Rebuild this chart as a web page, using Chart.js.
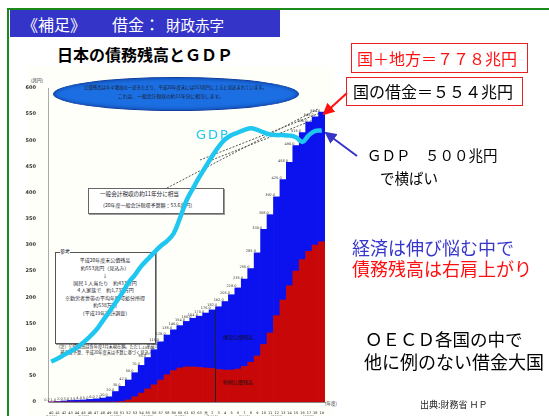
<!DOCTYPE html>
<html lang="ja">
<head>
<meta charset="utf-8">
<script src="https://cdn.jsdelivr.net/npm/chart.js@4.4.0/dist/chart.umd.min.js"></script>
<style>
  body { margin:0; width:549px; height:416px; overflow:hidden; background:#fff;
         font-family:"Noto Sans CJK JP", sans-serif; position:relative; }
  .abs { position:absolute; white-space:nowrap; }
  .tiny { color:#1a1a2a; line-height:1; }
</style>
</head>
<body>

<!-- slide frame + title -->
<div class="abs" style="left:7px;top:8px;width:600px;height:500px;border-left:2px solid #1a8a1a;border-top:2px solid #1a8a1a;"></div>
<div class="abs" style="left:10px;top:10px;width:270px;height:27px;background:#3434c8;color:#fff;">
  <span class="abs" style="left:12px;top:2px;font-size:16px;">《補足》</span>
  <span class="abs" style="left:102px;top:2px;font-size:16px;">借金：</span>
  <span class="abs" style="left:156px;top:4px;font-size:14.5px;">財政赤字</span>
</div>
<div class="abs" style="left:57px;top:42px;font-size:16px;font-weight:bold;color:#000;">日本の債務残高とＧＤＰ</div>

<!-- chart picture background and annotations under the canvas -->
<div class="abs" style="left:28px;top:66px;width:305px;height:350px;background:#fffffa;"></div>
<div class="abs" style="left:53px;top:77px;width:244px;height:32px;background:#1c6fe2;border:1.5px solid #123f9e;border-radius:50%;box-shadow:inset 0 0 4px #0d3a9a;"></div>
<div class="abs tiny" style="left:84px;top:85px;font-size:4.4px;">公債残高は年々増加の一途をたどり、平成20年度末には553兆円に上ると見込まれています。</div>
<div class="abs tiny" style="left:118px;top:94px;font-size:4.8px;">これは、一般会計税収の約11年分に相当します。</div>

<div class="abs" style="left:88px;top:188px;width:134px;height:24px;background:#fff;border:1px solid #666;box-shadow:1px 1px 0 #999;"></div>
<div class="abs tiny" style="left:100px;top:192px;font-size:5.6px;">一般会計税収の約11年分に相当</div>
<div class="abs tiny" style="left:100px;top:202px;font-size:5px;">（20年度一般会計税収予算額：53.6兆円）</div>

<div class="abs" style="left:55px;top:252px;width:99px;height:90px;background:#fff;border:1px solid #555;box-shadow:1px 1px 0 #999;"></div>
<div class="abs tiny" style="left:60px;top:248px;font-size:5px;background:#fff;">参考</div>
<div class="abs tiny" style="left:55px;top:256px;width:100px;text-align:center;font-size:5px;line-height:7.5px;">
  平成20年度末公債残高<br>約553兆円（見込み）<br>↓<br>国民１人当たり　約433万円<br>４人家族で　約1,732万円<br>※勤労者世帯の平均年間可処分所得<br>約538万円<br>（平成19年家計調査）
</div>
<div class="abs tiny" style="left:56px;top:344px;font-size:4.2px;line-height:5.5px;">（注）公債残高は各年度3月末現在額。ただし、平成19年度末は<br>　補正後予算、平成20年度末は予算に基づく見込み。</div>

<svg class="abs" style="left:0;top:0;" width="549" height="416">
  <g stroke="#555" stroke-width="1" stroke-dasharray="2,1.5" fill="none">
    <line x1="167" y1="188" x2="318" y2="109"/>
    <line x1="200" y1="160" x2="320" y2="113"/>
    <line x1="212" y1="160" x2="321" y2="117"/>
  </g>
</svg>
<div class="abs tiny" style="left:31px;top:78px;font-size:4.5px;">(兆円)</div>
<div class="abs tiny" style="left:325px;top:401px;font-size:4.5px;">(年度)</div>

<canvas id="myChart" width="320" height="350" style="position:absolute;left:20px;top:66px;"></canvas>

<!-- annotations over the chart -->
<div class="abs" style="left:196px;top:127px;font-size:13px;letter-spacing:2px;color:#1ec6f0;font-family:'DejaVu Sans',sans-serif;">GDP</div>
<svg class="abs" style="left:0;top:0;" width="549" height="416">
  <defs>
    <marker id="ar" markerWidth="6" markerHeight="6" refX="5" refY="3" orient="auto"><path d="M0,0 L6,3 L0,6 z" fill="#ff1010"/></marker>
    <marker id="ab" markerWidth="6" markerHeight="6" refX="5" refY="3" orient="auto"><path d="M0,0 L6,3 L0,6 z" fill="#3535c8"/></marker>
  </defs>
  <line x1="347" y1="93" x2="324" y2="114" stroke="#ff1010" stroke-width="2" marker-end="url(#ar)"/>
  <line x1="357" y1="156" x2="326" y2="133" stroke="#3535c8" stroke-width="2" marker-end="url(#ab)"/>
</svg>

<div class="abs" style="left:351px;top:43px;width:175px;height:28px;border:1px solid #e82020;"></div>
<div class="abs" style="left:357px;top:46px;font-size:16px;color:#ff1010;">国＋地方＝７７８兆円</div>
<div class="abs" style="left:346px;top:77px;width:175px;height:27px;border:1px solid #e82020;"></div>
<div class="abs" style="left:353px;top:79px;font-size:16px;color:#000;">国の借金＝５５４兆円</div>
<div class="abs" style="left:367px;top:144px;font-size:14.5px;color:#000;">ＧＤＰ　５００兆円</div>
<div class="abs" style="left:380px;top:167px;font-size:14.5px;color:#000;">で横ばい</div>
<div class="abs" style="left:352px;top:234px;font-size:18px;color:#3636cc;">経済は伸び悩む中で</div>
<div class="abs" style="left:352px;top:255px;font-size:18px;color:#ff1010;">債務残高は右肩上がり</div>
<div class="abs" style="left:365px;top:326px;font-size:17.5px;color:#000;">ＯＥＣＤ各国の中で</div>
<div class="abs" style="left:364px;top:348px;font-size:18px;color:#000;">他に例のない借金大国</div>
<div class="abs" style="left:420px;top:398px;font-size:9px;color:#222;">出典:財務省 ＨＰ</div>

<script>
// 年度（昭和40〜平成19）
const eraLabels = ['40','41','42','43','44','45','46','47','48','49','50','51','52','53','54','55','56','57','58','59',
  '60','61','62','63','元','2','3','4','5','6','7','8','9','10','11','12','13','14','15','16','17','18','19'];
const adYears = ['1965','1970','1975','1980','1985','1990','1995','2000','2005'];
const yTicks = [0,50,100,150,200,250,300,350,400,450,500,550,600];

// 特例公債残高（兆円）
const deficitBonds = [0,0,0,0,0,0,0,0,0,0,0,1,4,10,17,25,33,42,52,60,65,67,67,66,65,64,62,61,61,63,
  68,76,88,110,132,165,195,222,250,272,288,300,306];
// 建設公債残高（兆円）
const constructionBonds = [0.2,1,2,3,3.5,4,5,6,7.5,10,20,29,38,46,53,60,67,73,76,78,81,87,93,98,105,112,120,131,144,155,
  167,179,197,220,226,227,230,236,240,243,247,245,248];
// GDP（手描きの線）
const gdp = [77,83,90,97,104,114,125,138,155,172,190,208,228,243,260,273,286,298,308,322,352,385,408,430,450,
  470,488,502,510,515,520,523,520,515,511,510,510,509,506,497,510,518,519];

const labels = eraLabels.map((e, i) => i % 5 === 0 ? [e, '(' + adYears[i / 5] + ')'] : e);

// 段の値ラベル・区切り線・系列名
const extras = {
  id: 'extras',
  beforeDatasetsDraw(chart) {
    const ctx = chart.ctx;
    const top = chart.getDatasetMeta(1);
    ctx.save();
    ctx.font = '3.5px DejaVu Sans';
    ctx.fillStyle = '#333';
    ctx.textAlign = 'right';
    top.data.forEach((bar, i) => {
      const total = deficitBonds[i] + constructionBonds[i];
      ctx.fillText(total.toFixed(1), bar.x - 1.5, bar.y - 0.5);
    });
    ctx.restore();
  },
  afterDatasetsDraw(chart) {
    const {ctx, scales: {x, y}} = chart;
    ctx.save();
    const xs = (x.getPixelForValue(25) + x.getPixelForValue(26)) / 2;
    ctx.strokeStyle = '#222';
    ctx.lineWidth = 1;
    ctx.beginPath();
    ctx.moveTo(xs, y.getPixelForValue(0));
    ctx.lineTo(xs, y.getPixelForValue(deficitBonds[25] + constructionBonds[25]));
    ctx.stroke();
    ctx.font = '5px "Noto Sans CJK JP"';
    ctx.fillStyle = '#111';
    ctx.textAlign = 'center';
    ctx.fillText('建設公債残高', x.getPixelForValue(29), y.getPixelForValue(120));
    ctx.fillText('特例公債残高', x.getPixelForValue(29), y.getPixelForValue(35));
    ctx.restore();
  }
};

const ctx = document.getElementById('myChart').getContext('2d');
const myChart = new Chart(ctx, {
  type: 'bar',
  data: {
    labels: labels,
    datasets: [
      { label: '特例公債残高', data: deficitBonds, backgroundColor: '#c80808', stack: 'debt', order: 1,
        barPercentage: 1, categoryPercentage: 1, borderWidth: 0 },
      { label: '建設公債残高', data: constructionBonds, backgroundColor: '#0c12ee', stack: 'debt', order: 2,
        barPercentage: 1, categoryPercentage: 1, borderWidth: 0 },
      { type: 'line', label: 'GDP', data: gdp, stack: 'gdp', order: 0,
        borderColor: '#1ec6f0', borderWidth: 4.5, pointRadius: 0, tension: 0.4, fill: false }
    ]
  },
  options: {
    responsive: false,
    animation: false,
    layout: { padding: { left: 0, right: 15, top: 22, bottom: 0 } },
    plugins: { legend: { display: false }, tooltip: { enabled: false } },
    scales: {
      x: {
        stacked: true,
        grid: { display: false },
        border: { display: true, color: '#888' },
        ticks: { autoSkip: false, maxRotation: 0, minRotation: 0, padding: 1,
                 font: { size: 3.5, family: 'DejaVu Sans' }, color: '#222' },
        afterFit(s) { s.height = 14; }
      },
      y: {
        stacked: true,
        min: 0, max: 600,
        afterBuildTicks(s) { s.ticks = yTicks.map(v => ({ value: v })); },
        grid: { display: false },
        border: { display: true, color: '#aaa' },
        ticks: { padding: 4, font: { size: 5, family: 'DejaVu Sans', weight: 'bold' }, color: '#333' },
        afterFit(s) { s.width = 28; }
      }
    }
  },
  plugins: [extras]
});
</script>
</body>
</html>
